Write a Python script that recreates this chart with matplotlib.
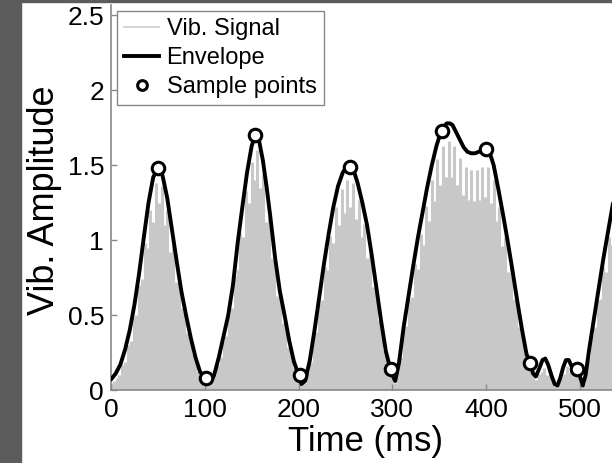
import numpy as np
import matplotlib
matplotlib.use("Agg")
import matplotlib.pyplot as plt
from matplotlib.lines import Line2D
from matplotlib.patches import Rectangle

plt.rcParams['font.family'] = ['Liberation Sans', 'DejaVu Sans']

# envelope (ms, amplitude)
env_t = [0, 5, 10, 15, 20, 25, 30, 35, 40, 45, 50, 55, 60, 65, 70, 75, 80, 85, 90, 95,
         100, 103, 106, 110, 115, 120, 125, 130, 135, 140, 145, 150, 154, 158, 162, 166,
         170, 175, 180, 185, 190, 195, 200, 203, 207, 212, 217, 222, 227, 232, 237, 242,
         247, 251, 255, 259, 263, 268, 273, 278, 283, 288, 293, 297, 300, 303, 307, 312,
         317, 322, 327, 332, 337, 342, 347, 351, 355, 358, 361, 364, 368, 372, 376, 380,
         384, 388, 392, 396, 400, 404, 408, 413, 418, 423, 428, 433, 438, 443, 447, 450,
         453, 457, 460, 463, 466, 470, 473, 476, 479, 482, 485, 488, 491, 494, 497, 500,
         503, 506, 510, 515, 520, 525, 530, 535, 540]
env_a = [0.07, 0.11, 0.17, 0.27, 0.40, 0.57, 0.78, 1.02, 1.25, 1.42, 1.48, 1.43, 1.28, 1.07,
         0.86, 0.66, 0.50, 0.35, 0.22, 0.12, 0.09, 0.05, 0.05, 0.10, 0.22, 0.36, 0.50, 0.70,
         0.98, 1.22, 1.45, 1.63, 1.70, 1.66, 1.53, 1.35, 1.15, 0.88, 0.66, 0.50, 0.33, 0.19,
         0.10, 0.04, 0.06, 0.20, 0.40, 0.62, 0.84, 1.04, 1.22, 1.36, 1.45, 1.49, 1.49, 1.46,
         1.38, 1.25, 1.10, 0.90, 0.68, 0.46, 0.26, 0.16, 0.10, 0.06, 0.18, 0.42, 0.62, 0.82,
         1.01, 1.18, 1.35, 1.50, 1.63, 1.71, 1.76, 1.78, 1.78, 1.77, 1.72, 1.67, 1.62, 1.59,
         1.58, 1.58, 1.59, 1.60, 1.61, 1.58, 1.50, 1.34, 1.17, 0.99, 0.80, 0.60, 0.41, 0.24,
         0.18, 0.11, 0.09, 0.15, 0.20, 0.21, 0.17, 0.09, 0.04, 0.03, 0.08, 0.15, 0.20, 0.20,
         0.16, 0.14, 0.14, 0.09, 0.03, 0.10, 0.28, 0.48, 0.68, 0.88, 1.06, 1.24, 1.40]

# sample points
samp_t = [50, 101, 154, 201, 255, 298, 353, 400, 447, 497]
samp_a = [1.48, 0.08, 1.70, 0.10, 1.49, 0.14, 1.73, 1.61, 0.18, 0.14]

# vibration signal peaks, one every 3 ms
sig_t = np.arange(0, 541, 3)
sig_a = [0.05, 0.06, 0.08, 0.10, 0.17, 0.19, 0.30, 0.33, 0.49, 0.50, 0.70, 0.74, 0.98, 0.95,
         1.20, 1.12, 1.38, 1.25, 1.36, 1.10, 1.20, 0.92, 0.96, 0.72, 0.73, 0.55, 0.52, 0.38,
         0.34, 0.24, 0.20, 0.12, 0.10, 0.07, 0.05, 0.04, 0.06, 0.10, 0.17, 0.22, 0.33, 0.36,
         0.50, 0.55, 0.76, 0.80, 1.05, 1.02, 1.33, 1.25, 1.52, 1.40, 1.60, 1.35, 1.44, 1.12,
         1.16, 0.88, 0.87, 0.63, 0.62, 0.45, 0.43, 0.29, 0.25, 0.15, 0.12, 0.06, 0.04, 0.05,
         0.12, 0.19, 0.33, 0.39, 0.58, 0.60, 0.82, 0.80, 1.03, 0.98, 1.22, 1.10, 1.34, 1.18,
         1.40, 1.22, 1.38, 1.14, 1.27, 1.02, 1.11, 0.88, 0.91, 0.69, 0.67, 0.47, 0.43, 0.27,
         0.22, 0.13, 0.09, 0.05, 0.13, 0.22, 0.39, 0.43, 0.61, 0.62, 0.84, 0.81, 1.04, 0.97,
         1.23, 1.13, 1.40, 1.26, 1.54, 1.37, 1.63, 1.42, 1.66, 1.42, 1.63, 1.37, 1.55, 1.30,
         1.49, 1.27, 1.47, 1.26, 1.47, 1.27, 1.49, 1.29, 1.49, 1.25, 1.40, 1.13, 1.22, 0.96,
         1.02, 0.79, 0.82, 0.61, 0.60, 0.42, 0.38, 0.25, 0.21, 0.14, 0.10, 0.07, 0.11, 0.12,
         0.15, 0.10, 0.11, 0.06, 0.04, 0.04, 0.08, 0.11, 0.16, 0.12, 0.13, 0.10, 0.11, 0.05,
         0.04, 0.12, 0.22, 0.37, 0.42, 0.60, 0.61, 0.82, 0.79, 1.02, 0.97, 1.22, 1.12]

xticks = [0, 100, 200, 300, 400, 500]
yticks = [0, 0.5, 1, 1.5, 2, 2.5]
ytick_labels = ['0', '0.5', '1', '1.5', '2', '2.5']

W, H = 612, 463
fig = plt.figure(figsize=(W / 100, H / 100), dpi=100)
ax = fig.add_axes([111 / W, 73 / H, 506.5 / W, 385 / H])

ax.vlines(sig_t, 0, sig_a, color='#c8c8c8', linewidth=2.2, zorder=1)
ax.plot(env_t, env_a, color='black', linewidth=2.8, zorder=3, solid_capstyle='round')
ax.plot(samp_t, samp_a, 'o', ms=9, mfc='white', mec='black', mew=2.2, zorder=4)

ax.set_xlim(0, 540)
ax.set_ylim(0, 2.57)
ax.set_xticks(xticks)
ax.set_xticklabels([str(v) for v in xticks])
ax.set_yticks(yticks)
ax.set_yticklabels(ytick_labels)
ax.tick_params(direction='in', length=4, width=1, color='#888888',
               labelsize=19, labelcolor='black')
ax.tick_params(axis='x', pad=6)
ax.tick_params(axis='y', pad=5)
for side in ['top', 'right']:
    ax.spines[side].set_visible(False)
for side in ['left', 'bottom']:
    ax.spines[side].set_color('#888888')
    ax.spines[side].set_linewidth(1.2)

handles = [
    Line2D([], [], color='#cfcfcf', linewidth=1.2),
    Line2D([], [], color='black', linewidth=2.8),
    Line2D([], [], marker='o', linestyle='none', ms=7, mfc='white', mec='black', mew=2.2),
]
leg = ax.legend(handles, ['Vib. Signal', 'Envelope', 'Sample points'],
                loc='upper left', bbox_to_anchor=(0.0118, 0.984), borderaxespad=0,
                fontsize=17, labelspacing=0.3, handlelength=1.5, handletextpad=0.3,
                borderpad=0.3, fancybox=False, framealpha=1)
leg.get_frame().set_edgecolor('#888888')
leg.get_frame().set_linewidth(1.0)

fig.text(45 / W, 1 - 200 / H, 'Vib. Amplitude', rotation=90, ha='center', va='center', fontsize=26)
fig.text(365 / W, 1 - 441 / H, 'Time (ms)', ha='center', va='center', fontsize=25)

# dark frame strips around the crop
fig.patches.append(Rectangle((0, 0), 21 / W, 1, transform=fig.transFigure,
                             color='#5c5c5c', zorder=10))
fig.patches.append(Rectangle((0, 1 - 2 / H), 1, 2 / H, transform=fig.transFigure,
                             color='#5c5c5c', zorder=10))

fig.savefig('out.png', dpi=100)
